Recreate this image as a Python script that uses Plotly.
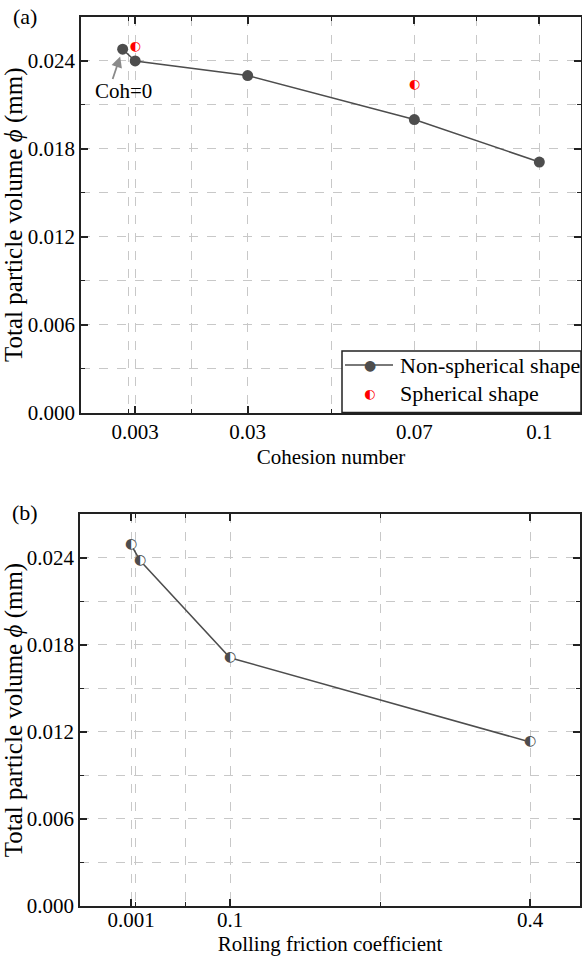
import plotly.graph_objects as go

# ---- data ----
coh_x = [0, 0.003, 0.03, 0.07, 0.1]
coh_nonsph = [0.0248, 0.0240, 0.0230, 0.0200, 0.0171]
sph_x = [0.003, 0.07]
sph_y = [0.0250, 0.0224]
coh_tickvals = [0.003, 0.03, 0.07, 0.1]
coh_ticktext = ["0.003", "0.03", "0.07", "0.1"]
coh_minor = [0.0015, 0.0165, 0.05, 0.085]

rf_x = [0.001, 0.01, 0.1, 0.4]
rf_y = [0.0249, 0.0238, 0.0171, 0.0113]
rf_tickvals = [0.001, 0.1, 0.4]
rf_ticktext = ["0.001", "0.1", "0.4"]
rf_minor = [0.0055, 0.055, 0.25]

y_tickvals = [0.0, 0.006, 0.012, 0.018, 0.024]
y_ticktext = ["0.000", "0.006", "0.012", "0.018", "0.024"]
y_minor = [0.003, 0.009, 0.015, 0.021]

FONT = "Liberation Serif"
DARK = "#4d4d4d"
GRID = "#c8c8c8"

fig = go.Figure()

# top panel
fig.add_trace(go.Scatter(x=coh_x, y=coh_nonsph, mode="lines+markers",
                         line=dict(color=DARK, width=1.5),
                         marker=dict(color=DARK, size=11),
                         showlegend=False, xaxis="x", yaxis="y"))
fig.add_trace(go.Scatter(x=sph_x, y=sph_y, mode="text", text=["◐"] * len(sph_x),
                         textfont=dict(family="DejaVu Sans", size=13, color="red"),
                         textposition="middle center",
                         showlegend=False, xaxis="x", yaxis="y"))

# bottom panel
fig.add_trace(go.Scatter(x=rf_x, y=rf_y, mode="lines",
                         line=dict(color=DARK, width=1.5),
                         showlegend=False, xaxis="x2", yaxis="y2"))
fig.add_trace(go.Scatter(x=rf_x, y=rf_y, mode="markers",
                         marker=dict(color="white", size=10, line=dict(width=0)),
                         showlegend=False, xaxis="x2", yaxis="y2"))
fig.add_trace(go.Scatter(x=rf_x, y=rf_y, mode="text", text=["◐"] * len(rf_x),
                         textfont=dict(family="DejaVu Sans", size=14, color=DARK),
                         textposition="middle center",
                         showlegend=False, xaxis="x2", yaxis="y2"))

axis_common = dict(showline=True, linecolor="#222", linewidth=1.5, mirror="ticks",
                   ticks="inside", ticklen=7, tickwidth=1.5, tickcolor="#222",
                   showgrid=True, gridcolor=GRID, griddash="dash", gridwidth=1,
                   zeroline=False, tickfont=dict(family=FONT, size=21, color="black"),
                   automargin=False)

minor_common = dict(ticks="inside", ticklen=4, tickwidth=1.2, tickcolor="#222",
                    showgrid=True, gridcolor=GRID, griddash="dash", gridwidth=1)

ytitle = "Total particle volume <i>ϕ</i> (mm)"
YT_FONT = dict(family=FONT, size=25, color="black")

fig.update_layout(
    width=582, height=960,
    margin=dict(l=80, r=1, t=17, b=54),
    paper_bgcolor="white", plot_bgcolor="white",
    showlegend=False,
    xaxis=dict(domain=[0.002, 1.0], range=[-0.01, 0.11], anchor="y",
               tickmode="array", tickvals=coh_tickvals, ticktext=coh_ticktext,
               minor=dict(tickmode="array", tickvals=coh_minor, **minor_common),
               title=dict(text="Cohesion number", font=dict(family=FONT, size=21, color="black"),
                          standoff=6),
               **axis_common),
    yaxis=dict(domain=[0.5551, 1.0], range=[0, 0.027], anchor="x",
               tickmode="array", tickvals=y_tickvals, ticktext=y_ticktext,
               minor=dict(tickmode="array", tickvals=y_minor + [0.027], **minor_common),
               title=dict(text=ytitle, font=YT_FONT, standoff=2),
               **axis_common),
    xaxis2=dict(domain=[0.0, 0.998], range=[-0.05, 0.45], anchor="y2",
                tickmode="array", tickvals=rf_tickvals, ticktext=rf_ticktext,
                ticklabelstandoff=-6,
                minor=dict(tickmode="array", tickvals=rf_minor, **minor_common),
                title=dict(text="Rolling friction coefficient", font=dict(family=FONT, size=21, color="black"),
                           standoff=2),
                **axis_common),
    yaxis2=dict(domain=[0.0, 0.4409], range=[0, 0.027], anchor="x2",
                tickmode="array", tickvals=y_tickvals, ticktext=y_ticktext,
                minor=dict(tickmode="array", tickvals=y_minor + [0.027], **minor_common),
                title=dict(text=ytitle, font=YT_FONT, standoff=2),
                **axis_common),
)

# panel labels
fig.add_annotation(text="(a)", xref="paper", yref="paper", x=-0.11, y=1.0,
                   xanchor="center", yanchor="middle", showarrow=False,
                   font=dict(family=FONT, size=22, color="black"), yshift=1)
fig.add_annotation(text="(b)", xref="paper", yref="y2 domain", x=-0.11, y=1.0,
                   xanchor="center", yanchor="middle", showarrow=False,
                   font=dict(family=FONT, size=22, color="black"), yshift=2)

# Coh=0 annotation
fig.add_annotation(text="Coh=0", x=0.0002, y=0.02195, xref="x", yref="y",
                   showarrow=False, font=dict(family=FONT, size=21, color="black"))
fig.add_annotation(text="", x=-0.0006, y=0.0243, xref="x", yref="y",
                   showarrow=True, ax=-8, ay=24, arrowhead=2, arrowsize=1.2,
                   arrowwidth=1.8, arrowcolor="#8a8a8a")

# manual legend for top panel
fig.add_shape(type="rect", xref="x domain", yref="y domain", x0=0.522, x1=1.0,
              y0=0.0, y1=0.1556, line=dict(color="#222", width=1.5), fillcolor="white",
              layer="above")
fig.add_shape(type="line", xref="x domain", yref="y domain", x0=0.528, x1=0.624,
              y0=0.120, y1=0.120, line=dict(color=DARK, width=1.5), layer="above")
fig.add_annotation(text="●", xref="x domain", yref="y domain", x=0.577, y=0.120,
                   showarrow=False, font=dict(family="DejaVu Sans", size=14, color=DARK),
                   xanchor="center", yanchor="middle")
fig.add_annotation(text="◐", xref="x domain", yref="y domain", x=0.577, y=0.049,
                   showarrow=False, font=dict(family="DejaVu Sans", size=13, color="red"),
                   xanchor="center", yanchor="middle")
fig.add_annotation(text="Non-spherical shape", xref="x domain", yref="y domain", x=0.634, y=0.120,
                   showarrow=False, font=dict(family=FONT, size=22, color="black"),
                   xanchor="left", yanchor="middle")
fig.add_annotation(text="Spherical shape", xref="x domain", yref="y domain", x=0.634, y=0.049,
                   showarrow=False, font=dict(family=FONT, size=22, color="black"),
                   xanchor="left", yanchor="middle")

fig.write_html("out.html")
